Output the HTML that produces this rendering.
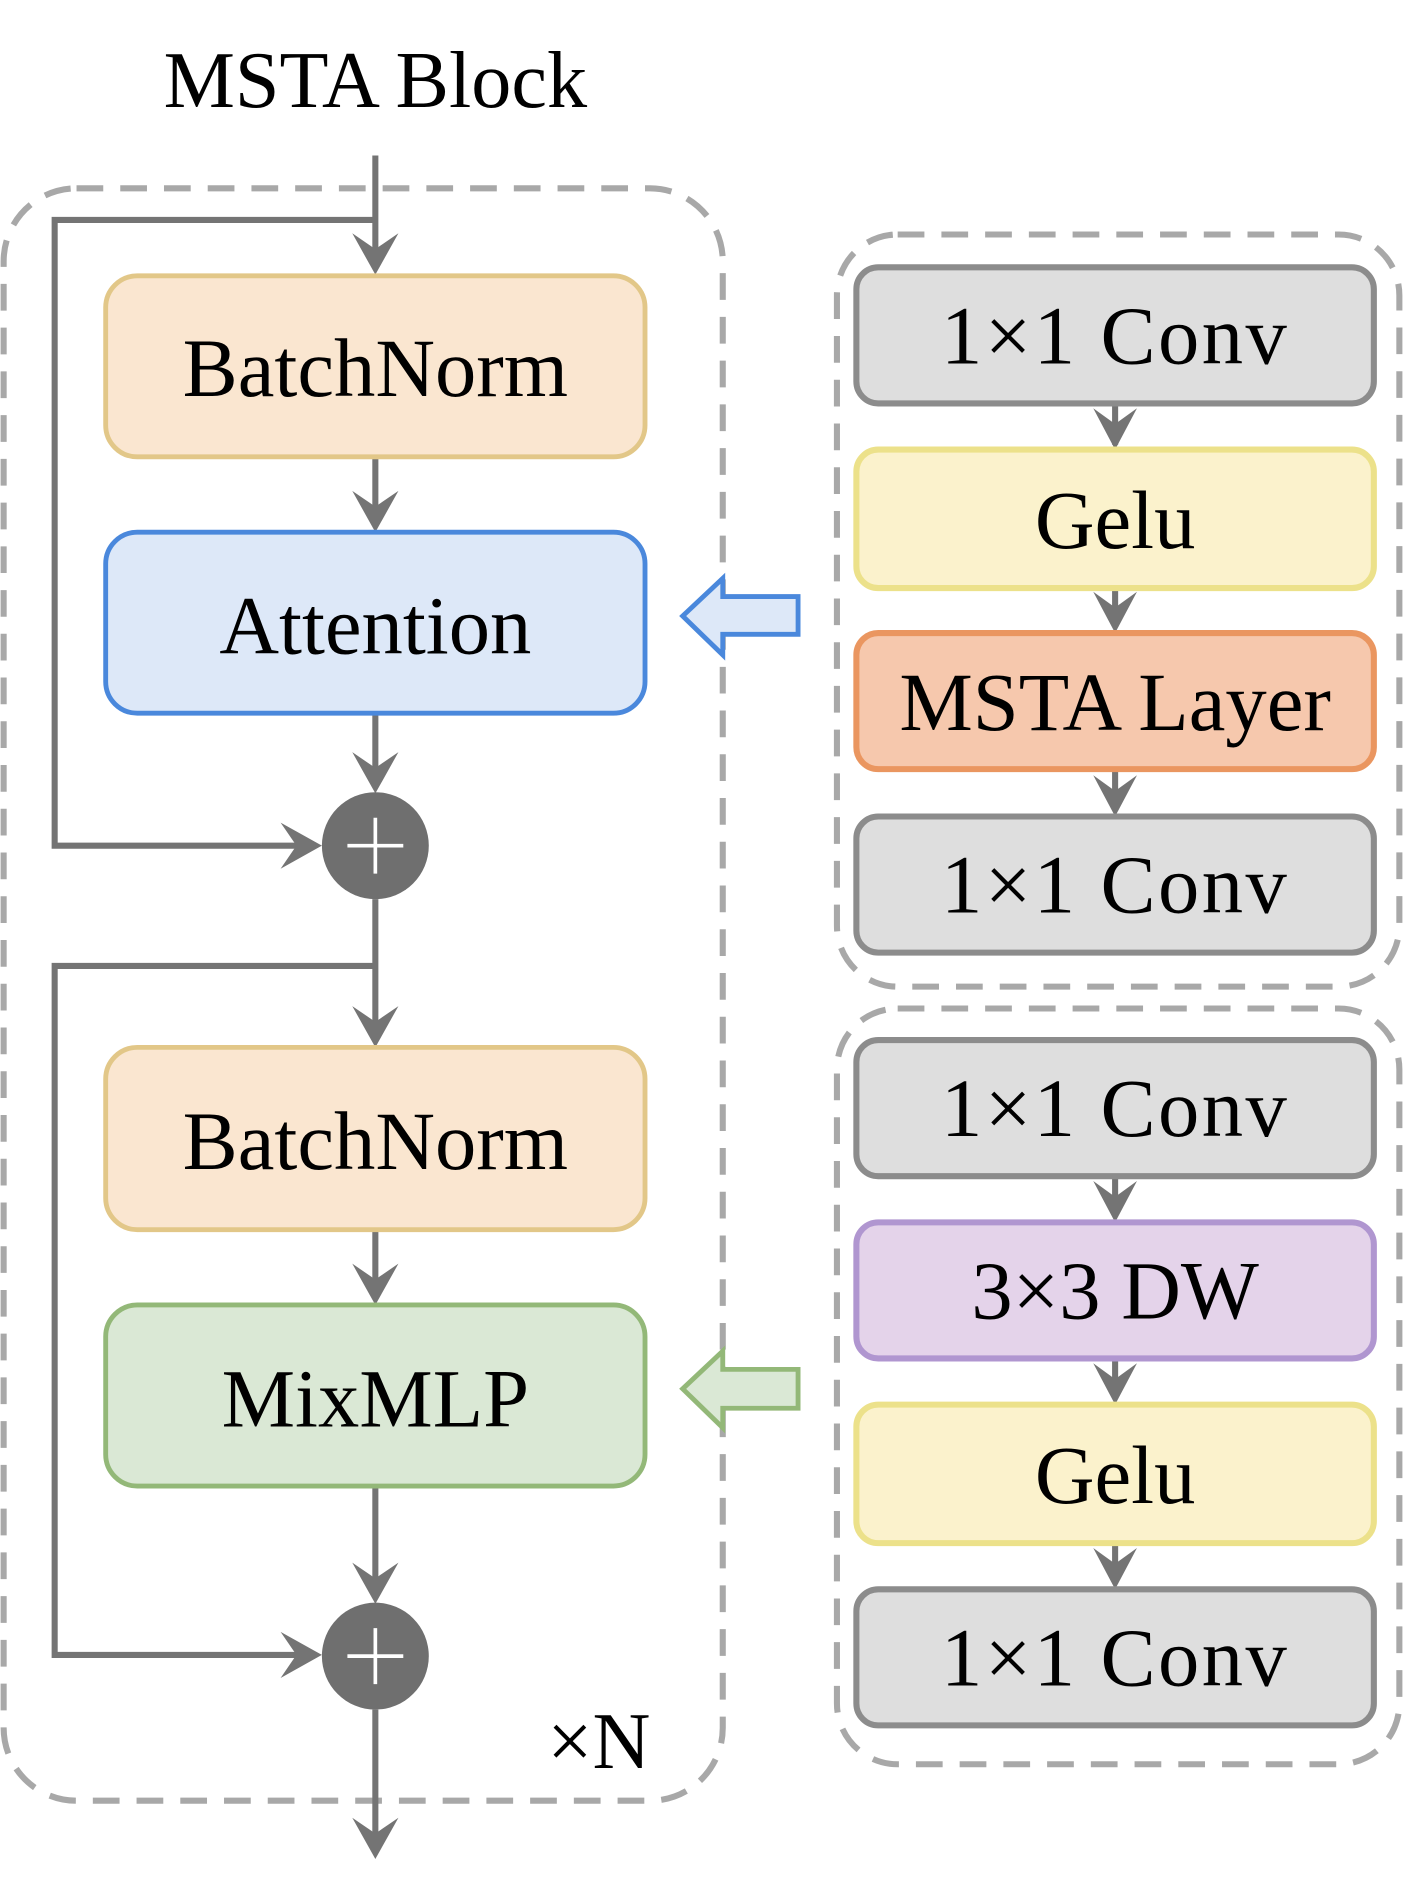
<!DOCTYPE html>
<html><head><meta charset="utf-8"><style>html,body{margin:0;padding:0;background:#fff}svg{display:block}</style></head>
<body>
<svg width="1403" height="1904" viewBox="0 0 1155 1567" preserveAspectRatio="none" xmlns="http://www.w3.org/2000/svg" font-family="'Liberation Serif', serif">
<text x="309" y="88" font-size="66" text-anchor="middle" fill="#000">MSTA Block</text>
<rect x="3" y="155" width="592" height="1327" rx="60" fill="none" stroke="#a8a8a8" stroke-width="5" stroke-dasharray="22,14"/>
<rect x="689" y="193" width="463" height="619" rx="50" fill="none" stroke="#a8a8a8" stroke-width="5" stroke-dasharray="22,14"/>
<rect x="689" y="830" width="463" height="622" rx="50" fill="none" stroke="#a8a8a8" stroke-width="5" stroke-dasharray="22,14"/>
<g stroke="#747474" stroke-width="5" fill="none">
<line x1="309" y1="128" x2="309" y2="220"/>
<polyline points="309,181 45,181 45,696 258,696"/>
<line x1="309" y1="376" x2="309" y2="432"/>
<line x1="309" y1="587" x2="309" y2="647"/>
<line x1="309" y1="740" x2="309" y2="855"/>
<polyline points="309,795 45,795 45,1362 258,1362"/>
<line x1="309" y1="1012" x2="309" y2="1068"/>
<line x1="309" y1="1223" x2="309" y2="1314"/>
<line x1="309" y1="1407" x2="309" y2="1520"/>
<line x1="918" y1="332" x2="918" y2="366"/>
<line x1="918" y1="484" x2="918" y2="516"/>
<line x1="918" y1="633" x2="918" y2="667"/>
<line x1="918" y1="968" x2="918" y2="1001"/>
<line x1="918" y1="1118" x2="918" y2="1151"/>
<line x1="918" y1="1270" x2="918" y2="1303"/>
</g>
<g fill="#747474">
<path d="M309,226 l-19,-34 l19,13 l19,-13z"/>
<path d="M309,438 l-19,-34 l19,13 l19,-13z"/>
<path d="M309,653 l-19,-34 l19,13 l19,-13z"/>
<path d="M309,862 l-19,-34 l19,13 l19,-13z"/>
<path d="M309,1074 l-19,-34 l19,13 l19,-13z"/>
<path d="M309,1320 l-19,-34 l19,13 l19,-13z"/>
<path d="M309,1530 l-19,-34 l19,13 l19,-13z"/>
<path d="M265,696 l-34,-19 l13,19 l-13,19z"/>
<path d="M265,1362 l-34,-19 l13,19 l-13,19z"/>
<path d="M918,370 l-18,-34 l18,13 l18,-13z"/>
<path d="M918,521 l-18,-34 l18,13 l18,-13z"/>
<path d="M918,672 l-18,-34 l18,13 l18,-13z"/>
<path d="M918,1006 l-18,-34 l18,13 l18,-13z"/>
<path d="M918,1156 l-18,-34 l18,13 l18,-13z"/>
<path d="M918,1308 l-18,-34 l18,13 l18,-13z"/>
</g>
<g stroke-width="4" font-size="68" text-anchor="middle">
<rect x="87" y="227" width="444" height="149" rx="26" fill="#fae6d0" stroke="#e2c788"/>
<text x="309" y="326" fill="#000" stroke="none">BatchNorm</text>
<rect x="87" y="438" width="444" height="149" rx="26" fill="#dde8f8" stroke="#4a88dc"/>
<text x="309" y="538" fill="#000" stroke="none">Attention</text>
<rect x="87" y="862" width="444" height="150" rx="26" fill="#fae6d0" stroke="#e2c788"/>
<text x="309" y="962" fill="#000" stroke="none">BatchNorm</text>
<rect x="87" y="1074" width="444" height="149" rx="26" fill="#dae8d5" stroke="#93b878"/>
<text x="309" y="1174" fill="#000" stroke="none">MixMLP</text>
</g>
<g>
<circle cx="309" cy="696" r="44" fill="#6f6f6f"/>
<path d="M309,673 v46 M286,696 h46" stroke="#fff" stroke-width="3"/>
<circle cx="309" cy="1363" r="44" fill="#6f6f6f"/>
<path d="M309,1340 v46 M286,1363 h46" stroke="#fff" stroke-width="3"/>
</g>
<text x="493" y="1455" font-size="66" text-anchor="middle" fill="#000">×N</text>
<path d="M657,491 H595 V476 L562,507 L595,539 V522 H657 Z" fill="#dde8f8" stroke="#4a88dc" stroke-width="4"/>
<path d="M657,1127 H595 V1112 L562,1143 L595,1175 V1159 H657 Z" fill="#dae8d5" stroke="#93b878" stroke-width="4"/>
<g stroke-width="5" font-size="68" text-anchor="middle">
<rect x="705" y="220" width="426" height="112" rx="18" fill="#dedede" stroke="#8c8c8c"/>
<text x="918" y="299" stroke="none" fill="#000" letter-spacing="2">1×1 Conv</text>
<rect x="705" y="370" width="426" height="114" rx="18" fill="#fbf2cc" stroke="#ece18a"/>
<text x="918" y="451" stroke="none" fill="#000">Gelu</text>
<rect x="705" y="521" width="426" height="112" rx="18" fill="#f6c8ad" stroke="#ea9660"/>
<text x="918" y="601" stroke="none" fill="#000">MSTA Layer</text>
<rect x="705" y="672" width="426" height="112" rx="18" fill="#dedede" stroke="#8c8c8c"/>
<text x="918" y="751" stroke="none" fill="#000" letter-spacing="2">1×1 Conv</text>
<rect x="705" y="856" width="426" height="112" rx="18" fill="#dedede" stroke="#8c8c8c"/>
<text x="918" y="935" stroke="none" fill="#000" letter-spacing="2">1×1 Conv</text>
<rect x="705" y="1006" width="426" height="112" rx="18" fill="#e4d3ea" stroke="#b096d0"/>
<text x="918" y="1085" stroke="none" fill="#000">3×3 DW</text>
<rect x="705" y="1156" width="426" height="114" rx="18" fill="#fbf2cc" stroke="#ece18a"/>
<text x="918" y="1237" stroke="none" fill="#000">Gelu</text>
<rect x="705" y="1308" width="426" height="112" rx="18" fill="#dedede" stroke="#8c8c8c"/>
<text x="918" y="1387" stroke="none" fill="#000" letter-spacing="2">1×1 Conv</text>
</g>
</svg>
</body></html>
